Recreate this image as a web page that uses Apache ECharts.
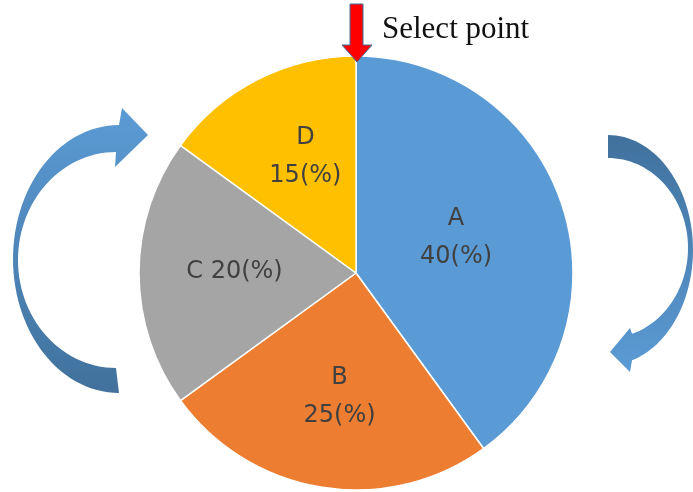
<!DOCTYPE html>
<html>
<head>
<meta charset="utf-8">
<script src="https://cdn.jsdelivr.net/npm/echarts@6/dist/echarts.min.js"></script>
<style>
  html, body { margin: 0; padding: 0; background: #ffffff; }
  #chart { width: 693px; height: 492px; }
</style>
</head>
<body>
<div id="chart"></div>
<script>
// Slice names and their shares (percent)
var categories = ['A', 'B', 'C', 'D'];
var shares = [40, 25, 20, 15];
// Separator between the name and the value in each slice label
var labelJoins = ['\n', '\n', ' ', '\n'];
var annotation = 'Select point';

var sliceColors = ['#5b9bd5', '#ed7d31', '#a5a5a5', '#ffc000'];
var labelShift = [[-6, -1], [1, 14], [-10, -1], [0, -17]];

var pieData = categories.map(function (name, i) {
  return {
    name: name,
    value: shares[i],
    itemStyle: { color: sliceColors[i] },
    label: { offset: labelShift[i] }
  };
});

// Points along an elliptical arc, angles in degrees (screen coordinates)
function arcPoints(cx, cy, rx, ry, fromDeg, toDeg, steps) {
  var pts = [];
  for (var k = 0; k <= steps; k++) {
    var a = (fromDeg + (toDeg - fromDeg) * k / steps) * Math.PI / 180;
    pts.push([cx + rx * Math.cos(a), cy + ry * Math.sin(a)]);
  }
  return pts;
}

function vGradient(top, bottom) {
  return {
    type: 'linear', x: 0, y: 0, x2: 0, y2: 1,
    colorStops: [{ offset: 0, color: top }, { offset: 1, color: bottom }]
  };
}

// left curved arrow: body runs down the left side, head points right at the top
var leftArrow = []
  .concat(arcPoints(119, 259, 106, 134, 270, 90, 60))
  .concat(arcPoints(116, 260, 98, 108, 90, 270, 60))
  .concat([[115, 167], [148, 135], [122, 108]]);

// right curved arrow: body runs down the right side, head points down-left
var rightArrow = []
  .concat(arcPoints(608, 250, 85, 115, -90, 73.6, 60))
  .concat([[630, 372], [610, 352], [630, 328]])
  .concat(arcPoints(608, 248, 80, 90, 72.5, -90, 60));

var chart = echarts.init(document.getElementById('chart'), null, { renderer: 'canvas' });

chart.setOption({
  backgroundColor: '#ffffff',
  animation: false,
  series: [{
    type: 'pie',
    center: [356, 273],
    radius: [0, 217],
    startAngle: 90,
    clockwise: true,
    avoidLabelOverlap: false,
    silent: true,
    itemStyle: { borderColor: '#ffffff', borderWidth: 1.5 },
    label: {
      show: true,
      position: 'inside',
      color: '#404040',
      fontFamily: 'DejaVu Sans',
      fontSize: 24,
      lineHeight: 38,
      formatter: function (p) {
        return p.name + labelJoins[p.dataIndex] + p.value + '(%)';
      }
    },
    labelLine: { show: false },
    data: pieData
  }],
  graphic: [
    {
      type: 'polygon',
      z: 10,
      shape: { points: leftArrow },
      style: { fill: vGradient('#5b9bd5', '#41719c') }
    },
    {
      type: 'polygon',
      z: 10,
      shape: { points: rightArrow },
      style: { fill: vGradient('#41719c', '#5b9bd5') }
    },
    {
      // red pointer at the start of the first slice
      type: 'polygon',
      z: 20,
      shape: {
        points: [[350, 4], [363, 4], [363, 45], [372, 45], [357, 62], [342, 45], [350, 45]]
      },
      style: { fill: '#ff0000', stroke: '#41719c', lineWidth: 1 }
    },
    {
      type: 'text',
      z: 20,
      left: 382,
      top: 14,
      style: {
        text: annotation,
        fill: '#111111',
        font: '31px "Liberation Serif"'
      }
    }
  ]
});
</script>
</body>
</html>
